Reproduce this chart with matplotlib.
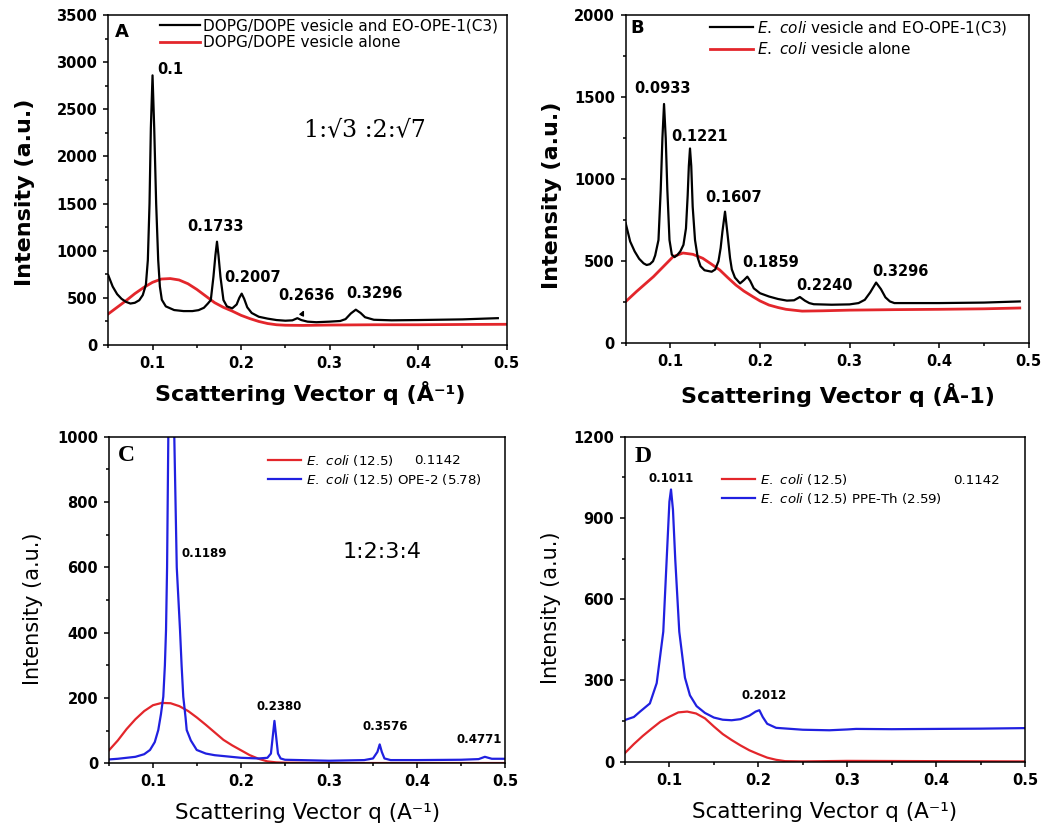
import matplotlib
matplotlib.use('Agg')
import matplotlib.pyplot as plt
from matplotlib.ticker import MultipleLocator

plt.rcParams['mathtext.default'] = 'regular'

# ---- panel A: DOPG/DOPE vesicle ----
qA_black = [0.05, 0.055, 0.06, 0.065, 0.07, 0.075, 0.08, 0.085, 0.089, 0.0925, 0.0947, 0.0966, 0.0981,
            0.1, 0.1019, 0.1041, 0.1064, 0.1083, 0.1105, 0.115, 0.1244, 0.135, 0.145, 0.152, 0.158,
            0.1625, 0.1658, 0.1688, 0.171, 0.1728, 0.1745, 0.1767, 0.1801, 0.184, 0.19, 0.195, 0.198,
            0.2007, 0.2035, 0.207, 0.212, 0.22, 0.23, 0.24, 0.25, 0.258, 0.2636, 0.268, 0.275, 0.285,
            0.3, 0.312, 0.318, 0.324, 0.3296, 0.335, 0.34, 0.35, 0.37, 0.4, 0.45, 0.49]
iA_black = [740, 620, 540, 490, 458, 440, 448, 475, 530, 640, 900, 1500, 2300,
            2860, 2300, 1500, 900, 620, 480, 410, 371, 360, 360, 370, 395,
            440, 477, 725, 950, 1096, 950, 725, 477, 410, 389, 430, 500,
            545, 490, 400, 340, 300, 280, 265, 258, 262, 285, 265, 248, 242,
            248, 255, 275, 335, 375, 340, 295, 268, 262, 265, 272, 285]
qA_red = [0.05, 0.06, 0.07, 0.08, 0.09, 0.1, 0.11, 0.12, 0.13, 0.14, 0.15, 0.16, 0.17, 0.18,
          0.19, 0.2, 0.21, 0.22, 0.23, 0.24, 0.25, 0.27, 0.3, 0.35, 0.4, 0.45, 0.5]
iA_red = [330, 400, 470, 545, 610, 665, 700, 705, 690, 650, 590, 520, 450, 400,
          360, 315, 280, 250, 228, 215, 210, 208, 212, 215, 215, 218, 220]
peaksA = ['0.1', '0.1733', '0.2007', '0.2636', '0.3296']
peaksA_xy = [(0.105, 2920), (0.1707, 1252), (0.2135, 721), (0.2733, 530), (0.351, 551)]

# ---- panel B: E. coli vesicle ----
qB_black = [0.05, 0.055, 0.06, 0.065, 0.07, 0.0734, 0.077, 0.0805, 0.0829, 0.0866, 0.0891, 0.091,
            0.0928, 0.0947, 0.0965, 0.0989, 0.1015, 0.1045, 0.1077, 0.111, 0.1145, 0.1173, 0.1192,
            0.1205, 0.1218, 0.1232, 0.1248, 0.1274, 0.1305, 0.1335, 0.138, 0.146, 0.15, 0.1536,
            0.156, 0.158, 0.1609, 0.164, 0.1665, 0.1685, 0.172, 0.1777, 0.182, 0.1858, 0.189, 0.193,
            0.2, 0.21, 0.22, 0.23, 0.238, 0.2445, 0.25, 0.255, 0.26, 0.28, 0.3, 0.31, 0.317, 0.323,
            0.3296, 0.335, 0.34, 0.345, 0.35, 0.4, 0.45, 0.49]
iB_black = [731, 620, 560, 515, 487, 477, 482, 500, 535, 629, 934, 1250,
            1458, 1250, 934, 629, 540, 525, 538, 560, 600, 700, 900,
            1080, 1187, 1080, 832, 629, 520, 470, 445, 436, 450, 500,
            580, 680, 802, 650, 520, 450, 400, 365, 385, 406, 380, 335,
            305, 285, 270, 260, 262, 282, 260, 245, 238, 235, 237, 245, 265, 310,
            370, 330, 280, 255, 245, 245, 248, 255]
qB_red = [0.05, 0.062, 0.081, 0.092, 0.103, 0.114, 0.125, 0.136, 0.145, 0.155, 0.164, 0.173, 0.182,
          0.192, 0.2, 0.21, 0.22, 0.229, 0.247, 0.27, 0.3, 0.35, 0.4, 0.45, 0.49]
iB_red = [254, 315, 406, 467, 528, 550, 542, 518, 485, 447, 400, 355, 318,
          284, 258, 233, 218, 207, 196, 198, 202, 205, 207, 210, 215]
peaksB = ['0.0933', '0.1221', '0.1607', '0.1859', '0.2240', '0.3296']
peaksB_xy = [(0.0913, 1555), (0.133, 1259), (0.1709, 889), (0.212, 493), (0.2718, 355), (0.3563, 436)]

# ---- panel C: E. coli + OPE-2 ----
qC_blue = [0.05, 0.06, 0.07, 0.08, 0.09, 0.0966, 0.102, 0.106, 0.109, 0.1117, 0.1135, 0.1148, 0.116,
           0.1174, 0.119, 0.1205, 0.122, 0.1242, 0.127, 0.1307, 0.1325, 0.1344, 0.137, 0.1383, 0.143,
           0.1497, 0.16, 0.17, 0.2, 0.22, 0.23, 0.234, 0.236, 0.238, 0.24, 0.242, 0.245, 0.25, 0.3,
           0.34, 0.35, 0.355, 0.3576, 0.36, 0.363, 0.37, 0.4, 0.45, 0.47, 0.4771, 0.485, 0.5]
iC_blue = [12, 14, 17, 20, 28, 41, 65, 102, 150, 204, 300, 408, 600,
           1000, 1350, 1480, 1350, 1000, 600, 408, 300, 204, 140, 102, 70,
           41, 30, 25, 17, 15, 17, 30, 80, 130, 80, 30, 15, 11, 8,
           10, 15, 35, 58, 35, 15, 10, 10, 11, 13, 20, 14, 14]
qC_red = [0.05, 0.06, 0.07, 0.08, 0.09, 0.1, 0.11, 0.12, 0.13, 0.14, 0.15, 0.16, 0.17, 0.18,
          0.19, 0.2, 0.21, 0.22, 0.23, 0.24, 0.25, 0.3, 0.4, 0.5]
iC_red = [40, 70, 105, 135, 160, 178, 185, 184, 175, 160, 140, 118, 95, 72,
          55, 40, 25, 14, 6, 3, 2, 1, 1, 1]
peaksC = ['0.1189', '0.2380', '0.3576', '0.4771']
peaksC_xy = [(0.158, 643), (0.2435, 173), (0.3636, 114), (0.4705, 73)]

# ---- panel D: E. coli + PPE-Th ----
qD_blue = [0.05, 0.06, 0.067, 0.078, 0.0857, 0.0931, 0.0969, 0.1, 0.1018, 0.104, 0.1066, 0.1111,
           0.1175, 0.1231, 0.1306, 0.14, 0.15, 0.16, 0.17, 0.18, 0.19, 0.197, 0.2012, 0.205, 0.21,
           0.22, 0.25, 0.28, 0.3, 0.31, 0.35, 0.4, 0.45, 0.5]
iD_blue = [154, 165, 185, 215, 290, 480, 745, 960, 1005, 930, 745, 480,
           310, 245, 205, 180, 163, 155, 153, 157, 170, 185, 190, 165, 140,
           125, 118, 116, 119, 121, 120, 121, 122, 124]
qD_red = [0.05, 0.06, 0.07, 0.08, 0.09, 0.1, 0.11, 0.12, 0.13, 0.14, 0.15, 0.16, 0.17, 0.18,
          0.19, 0.2, 0.21, 0.22, 0.23, 0.25, 0.3, 0.4, 0.5]
iD_red = [32, 65, 95, 122, 148, 166, 182, 185, 178, 160, 130, 102, 80, 60,
          42, 28, 15, 7, 2, 1, 3, 2, 1]
peaksD = ['0.1011', '0.2012']
peaksD_xy = [(0.1014, 1046), (0.2067, 243)]

RED = '#e3262b'
BLUE = '#2020e0'

fig = plt.figure(figsize=(10.43, 8.3), dpi=100)
axA = fig.add_axes([0.1038, 0.5843, 0.382, 0.3976])
axB = fig.add_axes([0.5999, 0.5864, 0.3864, 0.3955])
axC = fig.add_axes([0.1045, 0.0803, 0.3797, 0.3936])
axD = fig.add_axes([0.5992, 0.0823, 0.3835, 0.3916])


def style_axes(ax, ymax, ymaj, tick_size):
    ax.set_xlim(0.05, 0.5)
    ax.set_ylim(0, ymax)
    ax.xaxis.set_major_locator(MultipleLocator(0.1))
    ax.xaxis.set_minor_locator(MultipleLocator(0.05))
    ax.yaxis.set_major_locator(MultipleLocator(ymaj))
    ax.yaxis.set_minor_locator(MultipleLocator(ymaj / 2))
    ax.tick_params(which='both', direction='out', top=False, right=False, width=1.1)
    ax.tick_params(which='major', length=3.8, pad=4)
    ax.tick_params(which='minor', length=2.2)
    for s in ax.spines.values():
        s.set_linewidth(1.1)
    for lab in ax.get_xticklabels() + ax.get_yticklabels():
        lab.set_fontweight('bold')
        lab.set_fontsize(tick_size)
    ax.xaxis.set_major_formatter(plt.FuncFormatter(lambda v, p: '%g' % round(v, 2) if v > 0.06 else ''))


# panel A
axA.plot(qA_red, iA_red, color=RED, lw=2.0, label='DOPG/DOPE vesicle alone', zorder=2)
axA.plot(qA_black, iA_black, color='black', lw=1.6, label='DOPG/DOPE vesicle and EO-OPE-1(C3)', zorder=3)
style_axes(axA, 3500, 500, 10.5)
h, l = axA.get_legend_handles_labels()
axA.legend(h[::-1], l[::-1], loc='upper left', bbox_to_anchor=(0.13, 0.99), frameon=False,
           fontsize=11, borderpad=0, borderaxespad=0, handlelength=2.6, handletextpad=0.2,
           labelspacing=0.12)
for txt, (x, y) in zip(peaksA, peaksA_xy):
    ha = 'left' if txt == '0.1' else 'center'
    axA.text(x, y, txt, ha=ha, va='center', fontsize=10.5, fontweight='bold')
axA.annotate('', xy=(0.2725, 395), xytext=(0.267, 290),
             arrowprops=dict(arrowstyle='-|>', color='black', lw=1.0, mutation_scale=7))
axA.text(0.34, 2280, '1:\u221a3 :2:\u221a7', ha='center', va='center', fontsize=17, family='DejaVu Serif')
axA.text(0.017, 0.95, 'A', transform=axA.transAxes, ha='left', va='center', fontsize=13, fontweight='bold')
axA.set_xlabel('Scattering Vector q (\u00c5\u207b\u00b9)', fontsize=16, fontweight='bold', va='center')
axA.xaxis.set_label_coords(0.506, -0.144)
axA.set_ylabel('Intensity (a.u.)', fontsize=16, fontweight='bold', va='center')
axA.yaxis.set_label_coords(-0.208, 0.464)

# panel B
axB.plot(qB_red, iB_red, color=RED, lw=2.0, label='$\\it{E.\\ coli}$ vesicle alone', zorder=2)
axB.plot(qB_black, iB_black, color='black', lw=1.6, label='$\\it{E.\\ coli}$ vesicle and EO-OPE-1(C3)', zorder=3)
style_axes(axB, 2000, 500, 10.5)
h, l = axB.get_legend_handles_labels()
axB.legend(h[::-1], l[::-1], loc='upper left', bbox_to_anchor=(0.209, 0.987), frameon=False,
           fontsize=11, borderpad=0, borderaxespad=0, handlelength=2.8, handletextpad=0.25,
           labelspacing=0.25)
for txt, (x, y) in zip(peaksB, peaksB_xy):
    axB.text(x, y, txt, ha='center', va='center', fontsize=10.5, fontweight='bold')
axB.text(0.011, 0.959, 'B', transform=axB.transAxes, ha='left', va='center', fontsize=13, fontweight='bold')
axB.set_xlabel('Scattering Vector q (\u00c5-1)', fontsize=16, fontweight='bold', va='center')
axB.xaxis.set_label_coords(0.527, -0.157)
axB.set_ylabel('Intensity (a.u.)', fontsize=16, fontweight='bold', va='center')
axB.yaxis.set_label_coords(-0.182, 0.452)

# panel C
axC.plot(qC_red, iC_red, color=RED, lw=1.6, label='$\\it{E.\\ coli}$ (12.5)')
axC.plot(qC_blue, iC_blue, color=BLUE, lw=1.6, label='$\\it{E.\\ coli}$ (12.5) OPE-2 (5.78)')
style_axes(axC, 1000, 200, 10.5)
axC.legend(loc='upper left', bbox_to_anchor=(0.4015, 0.95), frameon=False, fontsize=9.6,
           borderpad=0, borderaxespad=0, handlelength=2.5, handletextpad=0.38, labelspacing=0.28)
axC.text(0.4235, 926, '0.1142', ha='center', va='center', fontsize=9.6)
for txt, (x, y) in zip(peaksC, peaksC_xy):
    axC.text(x, y, txt, ha='center', va='center', fontsize=8.5, fontweight='bold')
axC.text(0.3606, 648, '1:2:3:4', ha='center', va='center', fontsize=16)
axC.text(0.023, 0.941, 'C', transform=axC.transAxes, ha='left', va='center', fontsize=17,
         fontweight='bold', family='Liberation Serif')
axC.set_xlabel('Scattering Vector q (A\u207b\u00b9)', fontsize=15.5, va='center')
axC.xaxis.set_label_coords(0.501, -0.151)
axC.set_ylabel('Intensity (a.u.)', fontsize=15, va='center')
axC.yaxis.set_label_coords(-0.191, 0.473)

# panel D
axD.plot(qD_red, iD_red, color=RED, lw=1.6, label='$\\it{E.\\ coli}$ (12.5)')
axD.plot(qD_blue, iD_blue, color=BLUE, lw=1.6, label='$\\it{E.\\ coli}$ (12.5) PPE-Th (2.59)')
style_axes(axD, 1200, 300, 10.5)
axD.legend(loc='upper left', bbox_to_anchor=(0.242, 0.891), frameon=False, fontsize=9.6,
           borderpad=0, borderaxespad=0, handlelength=2.5, handletextpad=0.38, labelspacing=0.28)
axD.text(0.4457, 1040, '0.1142', ha='center', va='center', fontsize=9.6)
for txt, (x, y) in zip(peaksD, peaksD_xy):
    axD.text(x, y, txt, ha='center', va='center', fontsize=8.5, fontweight='bold')
axD.text(0.025, 0.938, 'D', transform=axD.transAxes, ha='left', va='center', fontsize=17,
         fontweight='bold', family='Liberation Serif')
axD.set_xlabel('Scattering Vector q (A\u207b\u00b9)', fontsize=15.5, va='center')
axD.xaxis.set_label_coords(0.5, -0.154)
axD.set_ylabel('Intensity (a.u.)', fontsize=15, va='center')
axD.yaxis.set_label_coords(-0.186, 0.473)

fig.savefig('out.png', dpi=100)
